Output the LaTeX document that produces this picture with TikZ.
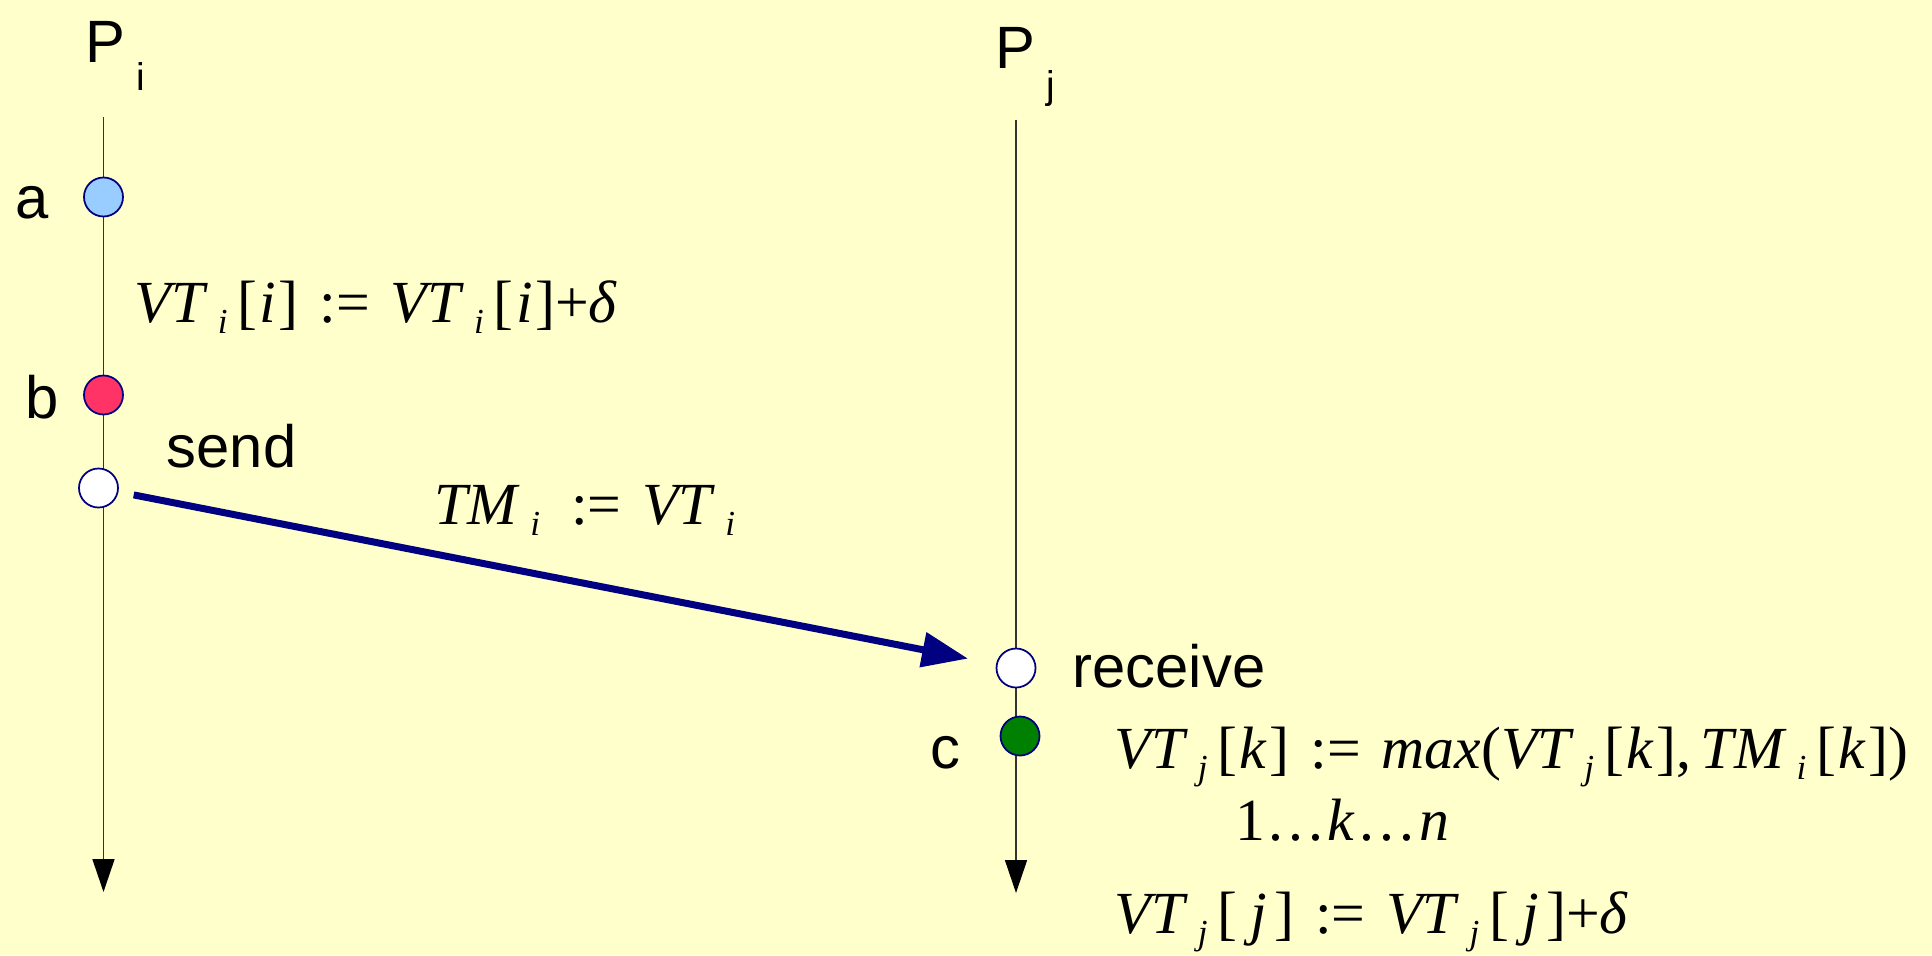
\documentclass[tikz,border=0pt]{standalone}
\usepackage{fontspec}
\setmainfont{Liberation Serif}
\setsansfont{Liberation Sans}
\usepackage{tikz}
\usetikzlibrary{positioning,arrows.meta}
\definecolor{bgyellow}{HTML}{FFFFCC}
\definecolor{msgnavy}{HTML}{000080}
\definecolor{evblue}{HTML}{99CCFF}
\definecolor{evred}{HTML}{FF3366}
\definecolor{evgreen}{HTML}{008000}
\newcommand{\lsub}[1]{\,\raisebox{-0.2em}{\fontsize{10}{10}\selectfont\itshape #1}\,}
\newcommand{\bk}[1]{[\kern0.04em\textit{#1}\kern0.04em]}
\newcommand{\bkj}{[\kern0.22em\textit{j}\kern0.12em]}
\newcommand{\asg}{\hspace{0.35em}:=\hspace{0.35em}}
\newcommand{\dts}{.\kern0.08em.\kern0.08em.}

\begin{document}
\begin{tikzpicture}[
  font=\sffamily\fontsize{17}{20}\selectfont,
  proc/.style={black!80,line width=0.45pt,-{Triangle[length=0.33cm,width=0.22cm,black]}},
  evt/.style={circle,draw=msgnavy,line width=0.5pt,minimum size=0.39cm,inner sep=0pt},
  lbl/.style={anchor=base west,inner sep=0pt},
  eqn/.style={anchor=base west,inner sep=0pt,font=\rmfamily\fontsize{17}{20}\selectfont},
  msg/.style={msgnavy,line width=0.07cm,-{Triangle[length=0.46cm,width=0.34cm]}},
]
\fill[bgyellow] (0,0) rectangle (19.32,-9.55);
\useasboundingbox (0,0) rectangle (19.32,-9.55);

% Process headers
\node[lbl] (Pi) at (0.85,-0.62) {P\raisebox{-0.28cm}{\fontsize{11}{11}\selectfont\ i}};
\node[lbl] (Pj) at (9.95,-0.68) {P\raisebox{-0.30cm}{\fontsize{11}{11}\selectfont\ j}};

% Time lines
\coordinate (iTop) at (1.035,-1.17);
\coordinate (iEnd) at (1.035,-8.92);
\coordinate (jTop) at (10.16,-1.195);
\coordinate (jEnd) at (10.16,-8.93);
\draw[proc] (iTop) -- (iEnd);
\draw[proc] (jTop) -- (jEnd);

% Events
\node[evt,fill=evblue]  (a)   at (1.035,-1.97) {};
\node[evt,fill=evred]   (b)   at (1.035,-3.95) {};
\node[evt,fill=white]   (snd) at (0.985,-4.88) {};
\node[evt,fill=white]   (rcv) at (10.16,-6.68) {};
\node[evt,fill=evgreen] (c)   at (10.20,-7.36) {};

\node[lbl] (alab)   at (0.15,-2.18)  {a};
\node[lbl] (blab)   at (0.245,-4.18) {b};
\node[lbl] (sndlab) at (1.66,-4.67)  {send};
\node[lbl] (rcvlab) at (10.72,-6.87) {receive};
\node[lbl] (clab)   at (9.30,-7.68)  {c};

% Message
\draw[msg,shorten <=0.155cm,shorten >=0.285cm] (snd) -- (rcv);

% Clock updates
\node[eqn] (incI) at (1.34,-3.22)
  {\textit{VT}\lsub{i}\bk{i}\asg\textit{VT}\lsub{i}\bk{i}+\textit{δ}};
\node[eqn] (tm) at (4.34,-5.24)
  {\textit{TM}\lsub{i}\asg\textit{VT}\lsub{i}};
\node[eqn] (maxJ) at (11.14,-7.68)
  {\textit{VT}\lsub{j}\bk{k}\asg\textit{max}(\textit{VT}\lsub{j}\bk{k},\,\textit{TM}\lsub{i}\bk{k})};
\node[eqn] (rng) at (12.35,-8.40)
  {1\kern0.05em\dts\kern0.08em\textit{k}\kern0.08em\dts\kern0.08em\textit{n}};
\node[eqn] (incJ) at (11.14,-9.33)
  {\textit{VT}\lsub{j}\bkj\asg\textit{VT}\lsub{j}\bkj+\textit{δ}};
\end{tikzpicture}
\end{document}
